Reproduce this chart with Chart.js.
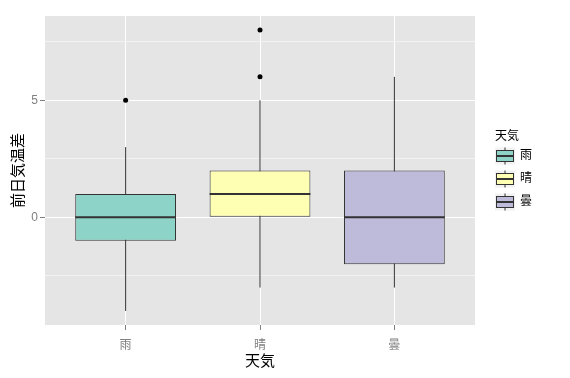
<!DOCTYPE html>
<html>
<head>
<meta charset="utf-8">
<script src="https://cdn.jsdelivr.net/npm/chart.js@4"></script>
<style>
  html, body { margin: 0; padding: 0; background: #ffffff; }
  #wrap { width: 570px; height: 378px; }
</style>
</head>
<body>
<div id="wrap"><canvas id="chart" width="570" height="378"></canvas></div>
<script>
"use strict";

// 天気ごとの前日気温差 (箱ひげ図)
const categories = ['雨', '晴', '曇'];
const whiskerLow = [-4, -3, -3];
const lowerQuartile = [-1, 0, -2];
const medians = [0, 1, 0];
const upperQuartile = [1, 2, 2];
const whiskerHigh = [3, 5, 6];
const outliers = [[5], [6, 8], []];
const fills = ['#8DD3C7', '#FFFFB3', '#BEBADA'];

const Y_MIN = -4.6;
const Y_MAX = 8.6;
const HALF_BOX = 0.375;
const OUTLINE = '#333333';
const GREY50 = '#7F7F7F';
const CJK = "'Liberation Sans', 'Noto Sans CJK JP', sans-serif";


const whiskerData = [];
const boxData = [];
const medianData = [];
const outlierData = [];
categories.forEach(function (c, i) {
    const x = i + 1;
    whiskerData.push({ x: x, y: whiskerLow[i] }, { x: x, y: whiskerHigh[i] }, { x: x, y: null });
    boxData.push({ x: x, y: [lowerQuartile[i], upperQuartile[i]] });
    medianData.push({ x: x - HALF_BOX, y: medians[i] }, { x: x + HALF_BOX, y: medians[i] }, { x: x + HALF_BOX, y: null });
    outliers[i].forEach(function (v) { outlierData.push({ x: x, y: v }); });
});


const panelBackground = {
    id: 'panelBackground',
    beforeDraw(chart) {
        const { ctx, chartArea: a } = chart;
        ctx.save();
        ctx.fillStyle = '#E5E5E5';
        ctx.fillRect(a.left, a.top, a.right - a.left, a.bottom - a.top);
        ctx.restore();
    }
};

const ggLegend = {
    id: 'ggLegend',
    afterDraw(chart) {
        const { ctx, chartArea: a } = chart;
        const lx = a.right + 20;
        ctx.save();
        ctx.fillStyle = '#000000';
        ctx.font = "12px " + CJK;
        ctx.textBaseline = 'middle';
        ctx.textAlign = 'left';
        ctx.fillText('天気', lx, 137);
        categories.forEach(function (c, i) {
            const cy = 156 + i * 23;
            ctx.fillStyle = '#F2F2F2';
            ctx.fillRect(lx, cy - 8.5, 20, 17);
            ctx.strokeStyle = OUTLINE;
            ctx.lineWidth = 1;
            ctx.beginPath();
            ctx.moveTo(lx + 10, cy - 8.5);
            ctx.lineTo(lx + 10, cy + 8.5);
            ctx.stroke();
            ctx.fillStyle = fills[i];
            ctx.fillRect(lx + 1.5, cy - 5.5, 17, 11);
            ctx.strokeRect(lx + 1.5, cy - 5.5, 17, 11);
            ctx.lineWidth = 2;
            ctx.beginPath();
            ctx.moveTo(lx + 1.5, cy);
            ctx.lineTo(lx + 18.5, cy);
            ctx.stroke();
            ctx.fillStyle = '#000000';
            ctx.fillText(c, lx + 25, cy);
        });
        ctx.restore();
    }
};


const ctx = document.getElementById('chart').getContext('2d');
const chart = new Chart(ctx, {
    type: 'bar',
    data: {
        datasets: [{
            type: 'line',
            label: 'whiskers',
            data: whiskerData,
            borderColor: OUTLINE,
            borderWidth: 1,
            pointRadius: 0,
            spanGaps: false,
            order: 3
        }, {
            type: 'bar',
            label: 'boxes',
            data: boxData,
            backgroundColor: fills,
            borderColor: OUTLINE,
            borderWidth: 1,
            borderSkipped: false,
            categoryPercentage: 1,
            barPercentage: 0.75,
            order: 2
        }, {
            type: 'line',
            label: 'medians',
            data: medianData,
            borderColor: OUTLINE,
            borderWidth: 2,
            pointRadius: 0,
            spanGaps: false,
            order: 1
        }, {
            type: 'scatter',
            label: 'outliers',
            data: outlierData,
            backgroundColor: '#000000',
            borderWidth: 0,
            pointRadius: 2.5,
            order: 0
        }]
    },
    options: {
        responsive: false,
        animation: false,
        layout: { padding: { top: 16, right: 95, left: 0, bottom: 0 } },
        scales: {
            x: {
                type: 'linear',
                min: 0.4,
                max: 3.6,
                offset: false,
                afterFit(scale) { scale.height = 53; },
                border: { display: false },
                grid: {
                    offset: false,
                    color: '#FFFFFF',
                    lineWidth: 1,
                    tickColor: GREY50,
                    tickLength: 5
                },
                ticks: {
                    stepSize: 1,
                    includeBounds: false,
                    padding: 8,
                    color: GREY50,
                    font: { family: CJK, size: 12 },
                    maxRotation: 0,
                    callback: function (v) { return categories[v - 1] || ''; }
                },
                title: {
                    display: true,
                    text: '天気',
                    color: '#000000',
                    font: { family: CJK, size: 15 },
                    padding: { top: 0, bottom: 7 }
                }
            },
            y: {
                type: 'linear',
                min: Y_MIN,
                max: Y_MAX,
                afterFit(scale) { scale.width = 45; },
                border: { display: false },
                grid: {
                    color: function (c) { return c.tick && c.tick.value % 5 === 0 ? '#FFFFFF' : '#F2F2F2'; },
                    lineWidth: 1,
                    tickColor: function (c) { return c.tick && c.tick.value % 5 === 0 ? GREY50 : 'rgba(0,0,0,0)'; },
                    tickLength: 5
                },
                ticks: {
                    stepSize: 2.5,
                    includeBounds: false,
                    padding: 2,
                    color: GREY50,
                    font: { family: CJK, size: 12 },
                    callback: function (v) { return v % 5 === 0 ? String(v) : ''; }
                },
                title: {
                    display: true,
                    text: '前日気温差',
                    color: '#000000',
                    font: { family: CJK, size: 15 },
                    padding: { top: 10, bottom: 0 }
                }
            }
        },
        plugins: {
            legend: { display: false },
            tooltip: { enabled: false }
        }
    },
    plugins: [panelBackground, ggLegend]
});
</script>
</body>
</html>
